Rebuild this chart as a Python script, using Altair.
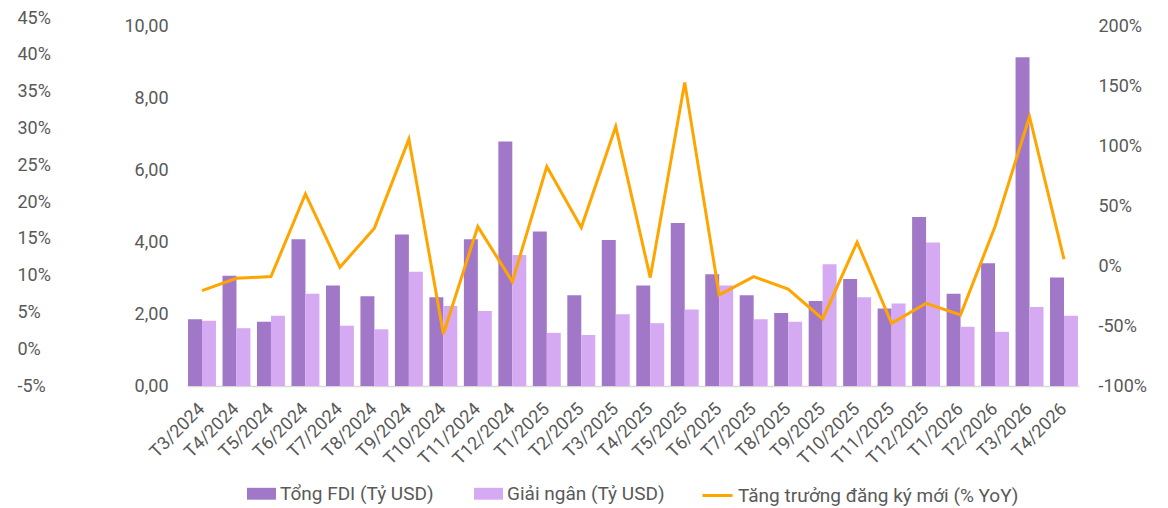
import altair as alt
import pandas as pd

months = ["T3/2024", "T4/2024", "T5/2024", "T6/2024", "T7/2024", "T8/2024", "T9/2024",
          "T10/2024", "T11/2024", "T12/2024", "T1/2025", "T2/2025", "T3/2025", "T4/2025",
          "T5/2025", "T6/2025", "T7/2025", "T8/2025", "T9/2025", "T10/2025", "T11/2025",
          "T12/2025", "T1/2026", "T2/2026", "T3/2026", "T4/2026"]
fdi_total = [1.86, 3.07, 1.79, 4.09, 2.80, 2.50, 4.22, 2.47, 4.09, 6.81, 4.30, 2.53, 4.07,
             2.80, 4.54, 3.11, 2.53, 2.03, 2.37, 2.98, 2.16, 4.71, 2.57, 3.42, 9.16, 3.02]
disbursed = [1.82, 1.61, 1.96, 2.57, 1.68, 1.58, 3.18, 2.23, 2.09, 3.65, 1.48, 1.42, 2.00,
             1.75, 2.13, 2.80, 1.86, 1.79, 3.39, 2.47, 2.30, 4.00, 1.65, 1.51, 2.20, 1.96]
growth = [-20.3, -10.0, -8.6, 60.5, -0.8, 31.9, 106.3, -56.5, 33.2, -12.8, 83.4, 32.4, 116.8,
          -9.4, 153.6, -23.9, -8.6, -19.1, -44.0, 20.2, -47.6, -30.9, -40.6, 33.2, 125.2, 5.9]
left_pct_ticks = [-5, 0, 5, 10, 15, 20, 25, 30, 35, 40, 45]
bar_ticks = [0, 2, 4, 6, 8, 10]
right_ticks = [-100, -50, 0, 50, 100, 150, 200]

s_fdi = "Tổng FDI (Tỷ USD)"
s_dis = "Giải ngân (Tỷ USD)"
s_gr = "Tăng trưởng đăng ký mới (% YoY)"

bar_df = pd.DataFrame({
    "month": months * 2,
    "series": [s_fdi] * len(months) + [s_dis] * len(months),
    "value": fdi_total + disbursed,
})
line_df = pd.DataFrame({"month": months, "growth": growth, "lseries": [s_gr] * len(months)})
pct_df = pd.DataFrame({"p": left_pct_ticks, "month": [months[0]] * len(left_pct_ticks)})

FONT = "Roboto"
TXT = "#595959"
DARK = "#A178C8"
LIGHT = "#D5AAF3"
ORANGE = "#FFA500"

xscale = alt.Scale(type="band", domain=months, paddingInner=0.19, paddingOuter=0.03)
xaxis = alt.Axis(title=None, labelAngle=-45, labelAlign="right", labelBaseline="middle",
                 labelFont=FONT, labelFontSize=18, labelColor=TXT, labelPadding=20,
                 ticks=False, domainColor="#d9d9d9", domainWidth=1.5, grid=False)

pct_layer = alt.Chart(pct_df).mark_point(opacity=0).encode(
    x=alt.X("month:N", scale=xscale, axis=xaxis),
    y=alt.Y("p:Q", scale=alt.Scale(domain=[-5, 45], nice=False, zero=False),
            axis=alt.Axis(orient="left", offset=170, values=left_pct_ticks, title=None,
                          labelExpr="datum.value + '%'", labelAlign="left", labelPadding=0,
                          labelFont=FONT, labelFontSize=18, labelColor=TXT,
                          domain=False, ticks=False, grid=False)),
)

bars = alt.Chart(bar_df).mark_bar().encode(
    x=alt.X("month:N", scale=xscale, axis=xaxis),
    xOffset=alt.XOffset("series:N", sort=[s_fdi, s_dis],
                        scale=alt.Scale(domain=[s_fdi, s_dis], paddingInner=0, paddingOuter=0)),
    y=alt.Y("value:Q", scale=alt.Scale(domain=[0, 10.25], nice=False),
            axis=alt.Axis(orient="left", values=bar_ticks, title=None,
                          labelExpr="replace(format(datum.value, '.2f'), '.', ',')",
                          labelPadding=19, labelFont=FONT, labelFontSize=18, labelColor=TXT,
                          domain=False, ticks=False, grid=False)),
    color=alt.Color("series:N",
                    scale=alt.Scale(domain=[s_fdi, s_dis], range=[DARK, LIGHT]),
                    legend=alt.Legend(orient="none", legendX=60, legendY=461,
                                      direction="horizontal", title=None,
                                      symbolType="M-1,-0.41H1V0.41H-1Z", symbolSize=841,
                                      symbolStrokeWidth=0, symbolOpacity=1,
                                      labelFont=FONT, labelFontSize=19, labelColor=TXT,
                                      labelOffset=4, columnPadding=40, labelLimit=400)),
)

line = alt.Chart(line_df).mark_line(strokeWidth=3).encode(
    x=alt.X("month:N", scale=xscale, axis=xaxis),
    y=alt.Y("growth:Q", scale=alt.Scale(domain=[-100, 207.5], nice=False),
            axis=alt.Axis(orient="right", values=right_ticks, title=None,
                          labelExpr="datum.value + '%'", labelAlign="left", labelPadding=19,
                          labelFont=FONT, labelFontSize=18, labelColor=TXT,
                          domain=False, ticks=False, grid=False)),
    stroke=alt.Stroke("lseries:N", scale=alt.Scale(domain=[s_gr], range=[ORANGE]),
                      legend=alt.Legend(orient="none", legendX=514, legendY=461,
                                        direction="horizontal", title=None,
                                        symbolType="stroke", symbolSize=900,
                                        symbolStrokeWidth=3,
                                        labelFont=FONT, labelFontSize=19, labelColor=TXT,
                                        labelOffset=4, labelLimit=400)),
)

chart = alt.layer(pct_layer, bars, line).resolve_scale(
    y="independent"
).properties(
    width=892, height=368,
    padding={"left": 179, "top": 10, "right": 80, "bottom": 120},
    autosize=alt.AutoSizeParams(type="none"),
).configure(background="white").configure_view(stroke=None)

chart.save("out.html", embed_options={"renderer": "svg", "actions": False})
